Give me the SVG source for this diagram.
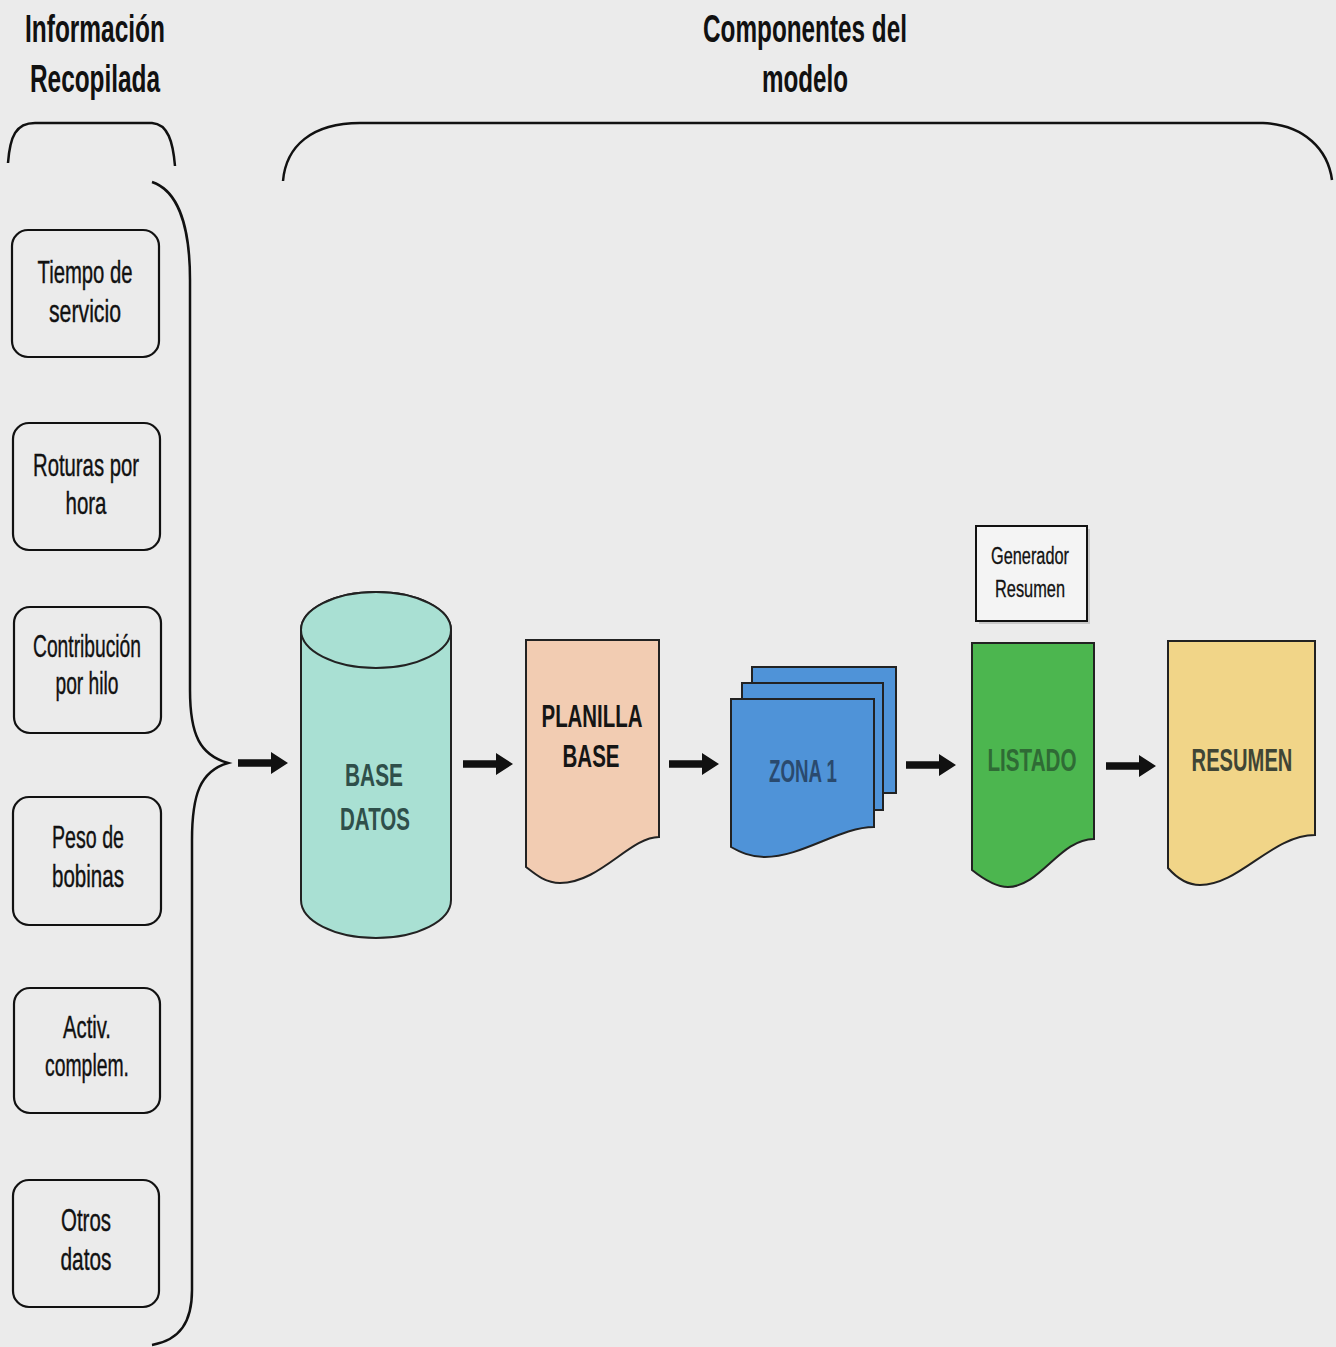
<svg xmlns="http://www.w3.org/2000/svg" xmlns:xlink="http://www.w3.org/1999/xlink" width="1336" height="1347" viewBox="0 0 1336 1347">
<style>
.title{font-family:"Liberation Sans",Arial,sans-serif;font-weight:bold;font-size:38px;fill:#111;text-anchor:middle}
.lbl{font-family:"Liberation Sans",Arial,sans-serif;font-size:32px;fill:#111;stroke:#111;stroke-width:0.4;text-anchor:middle}
.small{font-family:"Liberation Sans",Arial,sans-serif;font-size:23px;fill:#111;stroke:#111;stroke-width:0.3;text-anchor:middle}
.nlbl{font-family:"Liberation Sans",Arial,sans-serif;font-weight:bold;font-size:32px;text-anchor:middle}
.box{fill:none;stroke:#111;stroke-width:2.2}
.shape{stroke:#222;stroke-width:2}
.brace{fill:none;stroke:#111;stroke-width:2.5}
.arr{fill:#111}
</style>
<defs>
<path id="arrow" d="M0,-3.8 H33 V-11 L50,0 L33,11 V3.8 H0 Z"/>
</defs>
<rect width="1336" height="1347" fill="#ebebeb"/>

<g id="titles">
<text class="title" x="95" y="42" textLength="140" lengthAdjust="spacingAndGlyphs">Información</text>
<text class="title" x="95" y="92" textLength="130" lengthAdjust="spacingAndGlyphs">Recopilada</text>
<text class="title" x="805" y="42" textLength="204" lengthAdjust="spacingAndGlyphs">Componentes del</text>
<text class="title" x="805" y="92" textLength="86" lengthAdjust="spacingAndGlyphs">modelo</text>
</g>

<g id="braces">
<path class="brace" d="M8,163 C10,136 16,123 35,123 H152 C168,124 173,142 175,166"/>
<path class="brace" d="M152,182 C176,190 190,222 190,280 V690 C190,735 200,755 228,763 C200,771 192,795 192,840 V1290 C192,1322 180,1340 152,1345"/>
<path class="brace" d="M283,181 C286,146 312,123 360,123 H1263 C1305,125 1328,150 1332,180"/>
</g>

<g id="n-tiempo"><rect class="box" x="12" y="230" width="147" height="127" rx="16"/>
<text class="lbl" x="85" y="283" textLength="95" lengthAdjust="spacingAndGlyphs">Tiempo de</text>
<text class="lbl" x="85" y="322" textLength="72" lengthAdjust="spacingAndGlyphs">servicio</text></g>

<g id="n-roturas"><rect class="box" x="13" y="423" width="147" height="127" rx="16"/>
<text class="lbl" x="86" y="476" textLength="106" lengthAdjust="spacingAndGlyphs">Roturas por</text>
<text class="lbl" x="86" y="514" textLength="41" lengthAdjust="spacingAndGlyphs">hora</text></g>

<g id="n-contribucion"><rect class="box" x="14" y="607" width="147" height="126" rx="16"/>
<text class="lbl" x="87" y="657" textLength="108" lengthAdjust="spacingAndGlyphs">Contribución</text>
<text class="lbl" x="87" y="694" textLength="63" lengthAdjust="spacingAndGlyphs">por hilo</text></g>

<g id="n-peso"><rect class="box" x="13" y="797" width="148" height="128" rx="16"/>
<text class="lbl" x="88" y="848" textLength="72" lengthAdjust="spacingAndGlyphs">Peso de</text>
<text class="lbl" x="88" y="887" textLength="72" lengthAdjust="spacingAndGlyphs">bobinas</text></g>

<g id="n-activ"><rect class="box" x="14" y="988" width="146" height="125" rx="16"/>
<text class="lbl" x="87" y="1038" textLength="48" lengthAdjust="spacingAndGlyphs">Activ.</text>
<text class="lbl" x="87" y="1076" textLength="84" lengthAdjust="spacingAndGlyphs">complem.</text></g>

<g id="n-otros"><rect class="box" x="13" y="1180" width="146" height="127" rx="16"/>
<text class="lbl" x="86" y="1231" textLength="50" lengthAdjust="spacingAndGlyphs">Otros</text>
<text class="lbl" x="86" y="1270" textLength="51" lengthAdjust="spacingAndGlyphs">datos</text></g>

<g id="n-basedatos">
<path class="shape" fill="#a9e0d3" d="M301,630 V900 A75,38 0 0 0 451,900 V630 A75,38 0 0 0 301,630 Z"/>
<ellipse class="shape" fill="#a9e0d3" cx="376" cy="630" rx="75" ry="38"/>
<text class="nlbl" fill="#2f4f4a" x="374" y="786" textLength="58" lengthAdjust="spacingAndGlyphs">BASE</text>
<text class="nlbl" fill="#2f4f4a" x="375" y="830" textLength="70" lengthAdjust="spacingAndGlyphs">DATOS</text>
</g>

<g id="n-planilla">
<path class="shape" fill="#f2ccb2" d="M526,640 H659 V837 C630,837 600,883 560,883 C545,883 535,874 526,867 Z"/>
<text class="nlbl" fill="#151515" x="592" y="727" textLength="101" lengthAdjust="spacingAndGlyphs">PLANILLA</text>
<text class="nlbl" fill="#151515" x="591" y="767" textLength="57" lengthAdjust="spacingAndGlyphs">BASE</text>
</g>

<g id="n-zona1">
<rect class="shape" fill="#4f93d8" x="752" y="667" width="144" height="126"/>
<rect class="shape" fill="#4f93d8" x="742" y="683" width="141" height="127"/>
<path class="shape" fill="#4f93d8" d="M731,699 H874 V827 C840,827 802,857 765,857 C750,857 740,852 731,847 Z"/>
<text class="nlbl" fill="#2a4a6e" x="803" y="782" textLength="68" lengthAdjust="spacingAndGlyphs">ZONA 1</text>
</g>

<g id="n-generador">
<rect fill="#c8c8c8" x="979" y="529" width="111" height="95"/>
<rect fill="#f4f4f4" stroke="#111" stroke-width="2" x="976" y="526" width="111" height="95"/>
<text class="small" x="1030" y="564" textLength="78" lengthAdjust="spacingAndGlyphs">Generador</text>
<text class="small" x="1030" y="597" textLength="70" lengthAdjust="spacingAndGlyphs">Resumen</text>
</g>

<g id="n-listado">
<path class="shape" fill="#4cb64f" d="M972,643 H1094 V839 C1060,839 1040,887 1008,887 C995,887 982,878 972,870 Z"/>
<text class="nlbl" fill="#2f6b35" x="1032" y="771" textLength="89" lengthAdjust="spacingAndGlyphs">LISTADO</text>
</g>

<g id="n-resumen">
<path class="shape" fill="#f1d588" d="M1168,641 H1315 V835 C1272,835 1240,885 1200,885 C1185,885 1175,876 1168,868 Z"/>
<text class="nlbl" fill="#3f4535" transform="translate(1242,771) scale(0.63,1)" x="0" y="0">RESUMEN</text>
</g>

<g id="connectors" class="arr">
<use href="#arrow" xlink:href="#arrow" x="238" y="763"/>
<use href="#arrow" xlink:href="#arrow" x="463" y="764"/>
<use href="#arrow" xlink:href="#arrow" x="669" y="764"/>
<use href="#arrow" xlink:href="#arrow" x="906" y="765"/>
<use href="#arrow" xlink:href="#arrow" x="1106" y="766"/>
</g>
</svg>
